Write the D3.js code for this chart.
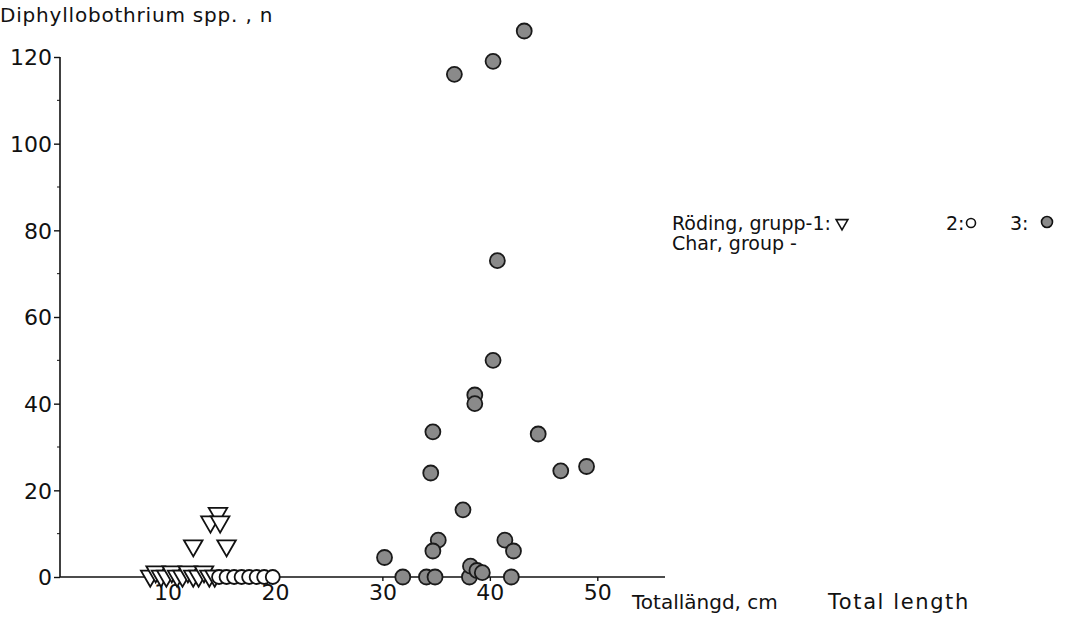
<!DOCTYPE html>
<html><head><meta charset="utf-8">
<script src="https://cdn.jsdelivr.net/npm/d3@7"></script>
<style>
html,body{margin:0;padding:0;background:#fff;}
text{font-family:"DejaVu Sans","Noto Sans",sans-serif;fill:#111;}
</style></head>
<body><svg id="c" width="1065" height="618"></svg>
<script>
// ---- data ----
const yTicks = [0, 20, 40, 60, 80, 100, 120];
const xTicks = [10, 20, 30, 40, 50];
const g1x = [8.4, 8.9, 9.4, 9.9, 10.4, 10.9, 11.4, 11.9, 12.4, 12.9, 13.4, 13.9, 14.4, 12.4, 15.5, 14.0, 14.7, 14.9];
const g1y = [0, 1, 0, 0, 1, 0, 0, 1, 0, 0, 1, 0, 0, 7, 7, 12.5, 14.5, 12.5];
const g2x = [14.8, 15.5, 16.2, 16.9, 17.6, 18.3, 19.0, 19.8];
const g2y = [0, 0, 0, 0, 0, 0, 0, 0];
const g3x = [43.2, 36.7, 40.3, 40.7, 40.3, 38.6, 38.6, 34.7, 44.5, 34.5, 46.6, 49.0, 37.5, 30.2, 35.2, 34.7, 41.4, 42.2, 31.9, 34.1, 34.9, 38.1, 38.2, 38.8, 39.3, 42.0];
const g3y = [126, 116, 119, 73, 50, 42, 40, 33.5, 33, 24, 24.5, 25.5, 15.5, 4.5, 8.5, 6, 8.5, 6, 0, 0, 0, 0, 2.5, 1.5, 1, 0];

// ---- layout ----
const svg = d3.select("#c");
const x = d3.scaleLinear().domain([0, 56.3]).range([60, 665]);
const y = d3.scaleLinear().domain([0, 120]).range([577, 57]);

// axes
const yAxis = d3.axisLeft(y).tickValues(yTicks).tickSize(6).tickPadding(2).tickFormat(d3.format("d"));
const gy = svg.append("g").attr("transform", "translate(60,0)").call(yAxis);
gy.select(".domain").attr("stroke", "#111").attr("stroke-width", 1.6).attr("d", `M0,${y(120)}V${y(0)}`);
gy.selectAll(".tick line").attr("stroke", "#111").attr("stroke-width", 1.4);
gy.selectAll(".tick text").style("font-size", "22px").attr("dy", "0.36em");
// minor ticks
svg.append("g").selectAll("line").data([10, 30, 50, 70, 90, 110]).join("line")
  .attr("x1", 57).attr("x2", 60).attr("y1", d => y(d)).attr("y2", d => y(d))
  .attr("stroke", "#111").attr("stroke-width", 1);

const xAxis = d3.axisBottom(x).tickValues(xTicks).tickSize(4).tickPadding(3).tickFormat(d3.format("d"));
const gx = svg.append("g").attr("transform", `translate(0,${y(0)})`).call(xAxis);
gx.select(".domain").attr("stroke", "#111").attr("stroke-width", 1.6).attr("d", `M60,0H665`);
gx.selectAll(".tick line").attr("stroke", "#111").attr("stroke-width", 1.4);
gx.selectAll(".tick text").style("font-size", "22px").attr("dy", "0.71em");

// labels
svg.append("text").attr("x", 0).attr("y", 22).style("font-size", "20px").style("letter-spacing", "0.8px").text("Diphyllobothrium spp. , n");
svg.append("text").attr("x", 632).attr("y", 609).style("font-size", "20px").text("Totallängd, cm");
svg.append("text").attr("x", 828).attr("y", 609).style("font-size", "21px").style("letter-spacing", "1.6px").text("Total length");

// marks
const tri = d3.symbol().type(d3.symbolTriangle).size(150);
const gpts = svg.append("g");
gpts.selectAll("path.g1").data(g1x.map((v, i) => [v, g1y[i]])).join("path")
  .attr("class", "g1").attr("d", tri)
  .attr("transform", d => `translate(${x(d[0])},${y(d[1]) - 1}) rotate(180)`)
  .attr("fill", "#fff").attr("stroke", "#111").attr("stroke-width", 1.8);
gpts.selectAll("circle.g2").data(g2x.map((v, i) => [v, g2y[i]])).join("circle")
  .attr("class", "g2").attr("cx", d => x(d[0])).attr("cy", d => y(d[1])).attr("r", 7)
  .attr("fill", "#fff").attr("stroke", "#111").attr("stroke-width", 1.8);
gpts.selectAll("circle.g3").data(g3x.map((v, i) => [v, g3y[i]])).join("circle")
  .attr("class", "g3").attr("cx", d => x(d[0])).attr("cy", d => y(d[1])).attr("r", 7.5)
  .attr("fill", "#8a8a8a").attr("stroke", "#1a1a1a").attr("stroke-width", 1.8);

// legend
const lg = svg.append("g");
lg.append("text").attr("x", 672).attr("y", 230).style("font-size", "19px").text("Röding, grupp-1:");
lg.append("path").attr("d", d3.symbol().type(d3.symbolTriangle).size(60))
  .attr("transform", "translate(842,223) rotate(180)").attr("fill", "#fff").attr("stroke", "#111").attr("stroke-width", 1.6);
lg.append("text").attr("x", 946).attr("y", 230).style("font-size", "19px").text("2:");
lg.append("circle").attr("cx", 971).attr("cy", 223).attr("r", 4.5).attr("fill", "#fff").attr("stroke", "#111").attr("stroke-width", 1.6);
lg.append("text").attr("x", 1010).attr("y", 230).style("font-size", "19px").text("3:");
lg.append("circle").attr("cx", 1047).attr("cy", 222).attr("r", 5.5).attr("fill", "#8a8a8a").attr("stroke", "#111").attr("stroke-width", 1.6);
lg.append("text").attr("x", 672).attr("y", 250).style("font-size", "19px").text("Char, group -");
</script></body></html>
